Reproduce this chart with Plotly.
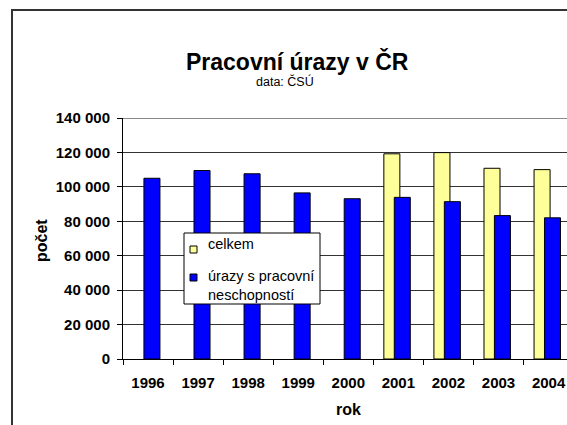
import plotly.graph_objects as go

# ---- data ----
years = ["1996", "1997", "1998", "1999", "2000", "2001", "2002", "2003", "2004"]
celkem = [None, None, None, None, None, 119200, 119900, 110800, 110000]
urazy_neschopnost = [105000, 109500, 107600, 96500, 93100, 93900, 91400, 83300, 82000]
y_tick_vals = [0, 20000, 40000, 60000, 80000, 100000, 120000, 140000]
y_tick_text = ["0", "20 000", "40 000", "60 000", "80 000", "100 000", "120 000", "140 000"]
legend_labels = ["celkem", "úrazy s pracovní<br>neschopností"]
colors = ["#FFFF99", "#0000FF"]

# ---- layout geometry (page pixels) ----
W, H = 567, 425
ML, MR, MT, MB = 123, 0, 118, 425 - 359
PW = W - ML - MR
PH = H - MT - MB


def px(x):
    """page x pixel -> paper coordinate"""
    return (x - ML) / PW


def py(y):
    """page y pixel -> paper coordinate"""
    return (H - MB - y) / PH


FONT = "Liberation Sans, Arial, sans-serif"

fig = go.Figure()
fig.add_trace(go.Bar(
    name="celkem", x=years, y=celkem,
    width=0.32, offset=-0.29,
    marker=dict(color=colors[0], line=dict(color="#000000", width=1)),
))
fig.add_trace(go.Bar(
    name="úrazy s pracovní neschopností", x=years, y=urazy_neschopnost,
    width=0.32, offset=-0.082,
    marker=dict(color=colors[1], line=dict(color="#000000", width=1)),
))

shapes = [
    # outer chart frame (cut off at right/bottom like the reference)
    dict(type="rect", xref="paper", yref="paper",
         x0=px(12), x1=1.2, y0=py(10), y1=-0.6,
         line=dict(color="#333333", width=2), fillcolor="rgba(0,0,0,0)",
         layer="above"),
    # lighter top border of the plot area
    dict(type="line", xref="paper", yref="y", x0=0, x1=1,
         y0=y_tick_vals[-1], y1=y_tick_vals[-1],
         line=dict(color="#8a8a8a", width=2), layer="above"),
    # legend box
    dict(type="rect", xref="paper", yref="paper",
         x0=px(184), x1=px(320), y0=py(304), y1=py(233),
         line=dict(color="black", width=1), fillcolor="white", layer="above"),
]
swatch_y = [(246, 253), (274, 281)]
for c, (ya, yb) in zip(colors, swatch_y):
    shapes.append(dict(type="rect", xref="paper", yref="paper",
                       x0=px(190), x1=px(197), y0=py(yb), y1=py(ya),
                       line=dict(color="black", width=1), fillcolor=c,
                       layer="above"))

label_y = [244, 285.5]
annotations = [
    dict(text="<b>Pracovní úrazy v ČR</b>", xref="paper", yref="paper",
         x=px(297), y=py(61.5), xanchor="center", yanchor="middle",
         showarrow=False, font=dict(family=FONT, size=23, color="black")),
    dict(text="data: ČSÚ", xref="paper", yref="paper",
         x=px(285), y=py(81), xanchor="center", yanchor="middle",
         showarrow=False, font=dict(family=FONT, size=12.5, color="black")),
    dict(text="<b>počet</b>", xref="paper", yref="paper",
         x=px(41), y=py(241), xanchor="center", yanchor="middle",
         textangle=-90, showarrow=False,
         font=dict(family=FONT, size=16, color="black")),
    dict(text="<b>rok</b>", xref="paper", yref="paper",
         x=px(348), y=py(409), xanchor="center", yanchor="middle",
         showarrow=False, font=dict(family=FONT, size=16, color="black")),
]
for lab, ly in zip(legend_labels, label_y):
    annotations.append(dict(text=lab, xref="paper", yref="paper",
                            x=px(206), y=py(ly), xanchor="left", yanchor="middle",
                            align="left", showarrow=False,
                            font=dict(family=FONT, size=14.5, color="black")))

fig.update_layout(
    width=W, height=H,
    margin=dict(l=ML, r=MR, t=MT, b=MB, pad=0),
    barmode="overlay",
    paper_bgcolor="white", plot_bgcolor="white",
    font=dict(family=FONT, color="black"),
    showlegend=False,
    hovermode=False,
    xaxis=dict(
        type="category", range=[-0.5, 8.368],
        showgrid=False, showline=True, linecolor="black", linewidth=1,
        ticks="outside", tickson="boundaries", ticklen=5, tickcolor="black",
        tickfont=dict(family=FONT, size=15, color="black", weight="bold"),
        ticklabelstandoff=10,
    ),
    yaxis=dict(
        range=[0, 140000], tickvals=y_tick_vals, ticktext=y_tick_text,
        showgrid=True, gridcolor="#333333", gridwidth=1, zeroline=False,
        showline=True, linecolor="black", linewidth=1,
        ticks="outside", ticklen=5, tickcolor="black",
        tickfont=dict(family=FONT, size=15, color="black", weight="bold"),
        ticklabelstandoff=4,
    ),
    shapes=shapes,
    annotations=annotations,
)

fig.write_html(
    "out.html",
    config={"displayModeBar": False, "staticPlot": True},
    post_script="document.body.style.margin='0';document.body.style.overflow='hidden';",
)
